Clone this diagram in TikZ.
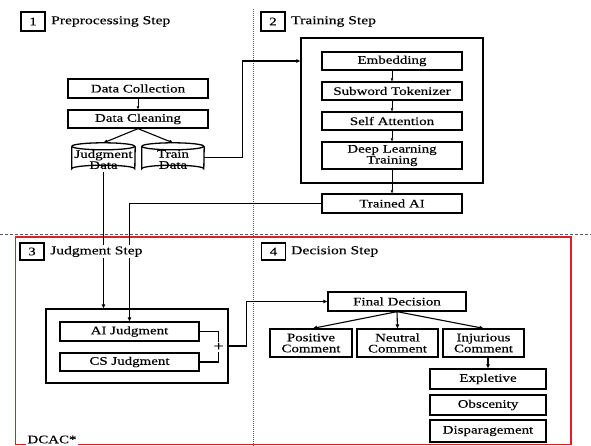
\documentclass[tikz,border=0pt]{standalone}
\usepackage{fontspec}
\setmainfont{Liberation Serif}[FakeStretch=1.3,FakeBold=0.25]
\usetikzlibrary{arrows.meta,calc}
\definecolor{redline}{RGB}{222,30,40}
\definecolor{guide}{RGB}{90,90,90}
\tikzset{
  box/.style={draw,line width=1.3pt,inner sep=0pt,align=center,font=\fontsize{11.5}{11}\selectfont},
  numbox/.style={draw,line width=1.3pt,minimum width=24pt,minimum height=19pt,inner sep=0pt,font=\fontsize{11.5}{12}\selectfont},
  steplabel/.style={anchor=west,inner sep=1pt,fill=white,font=\fontsize{12}{13}\selectfont},
  conn/.style={line width=1.1pt,-{Triangle[length=4pt,width=3.5pt]}},
  thinconn/.style={line width=0.5pt,-{Triangle[length=3pt,width=2.5pt]}},
  plain/.style={line width=1.1pt},
  cyl/.style={line width=1.3pt},
  cyltext/.style={inner sep=0pt,align=center,font=\fontsize{11.5}{11}\selectfont},
}
\begin{document}
\begin{tikzpicture}[x=1pt,y=-1pt]
\useasboundingbox (0,0) rectangle (591,446);
\fill[white] (0,0) rectangle (591,446);
% guides
\draw[guide,line width=0.8pt,dash pattern=on 0.8pt off 1.2pt] (253.5,9) -- (253.5,446);
\draw[guide,line width=0.6pt,dash pattern=on 3pt off 2pt] (0,234) -- (591,234);
\draw[redline,line width=1.3pt] (15.7,444.5) -- (15.7,237) -- (571,237) -- (571,444.5) -- cycle;
\node[fill=white,inner sep=1.5pt,font=\fontsize{11.5}{12}\selectfont] (dcac) at (52,439.5) {DCAC*};

% step labels
\node[numbox] (n1) at (33,21.5) {1};
\node[steplabel] (l1) at (50,21.5) {Preprocessing Step};
\node[numbox] (n2) at (273,21.5) {2};
\node[steplabel] (l2) at (290,21.5) {Training Step};

% preprocessing
\node[box,minimum width=140pt,minimum height=19pt] (dc) at (138,88.5) {Data Collection};
\node[box,minimum width=140pt,minimum height=18pt] (dcl) at (138,119) {Data Cleaning};
\node[inner sep=0pt,minimum width=63pt,minimum height=29pt] (jd) at (103.5,157.5) {};
\node[inner sep=0pt,minimum width=62pt,minimum height=29pt] (td) at (173,157.5) {};
\node[cyltext] (jdt) at (103.5,159.5) {Judgment\\Data};
\node[cyltext] (tdt) at (173,159.5) {Train\\Data};
\draw[cyl] ($(jd.north west)+(0,3.5)$) -- ($(jd.south west)+(0,-3.5)$) arc[start angle=180,end angle=360,x radius=31.5,y radius=3.5] -- ($(jd.north east)+(0,3.5)$);
\draw[cyl] ($(td.north west)+(0,3.5)$) -- ($(td.south west)+(0,-3.5)$) arc[start angle=180,end angle=360,x radius=31,y radius=3.5] -- ($(td.north east)+(0,3.5)$);
\draw[cyl] ($(jd.north west)+(0,3.5)$) arc[start angle=180,end angle=-180,x radius=31.5,y radius=3.5];
\draw[cyl] ($(td.north west)+(0,3.5)$) arc[start angle=180,end angle=-180,x radius=31,y radius=3.5];
\draw[thinconn,line width=0.8pt] (dc) -- (dcl);
\draw[conn] (dcl.south) -- (jd.north);
\draw[conn] (dcl.south) -- (td.north);

% training
\node[draw,line width=1.3pt,minimum width=182pt,minimum height=145pt,inner sep=0pt] (tbox) at (392,110.5) {};
\node[box,minimum width=140pt,minimum height=18pt] (emb) at (392,61) {Embedding};
\node[box,minimum width=140pt,minimum height=18pt] (sub) at (392,91) {Subword Tokenizer};
\node[box,minimum width=140pt,minimum height=18pt] (sa) at (392,121) {Self Attention};
\node[box,minimum width=140pt,minimum height=27pt] (dlt) at (392,155.5) {Deep Learning\\Training};
\node[box,minimum width=140pt,minimum height=19pt] (tai) at (392,203.5) {Trained AI};
\draw[thinconn] (emb) -- (sub);
\draw[thinconn] (sub) -- (sa);
\draw[thinconn] (sa) -- (dlt);
\draw[thinconn] (dlt) -- (tai);
\draw[conn] (td.east) -- ++(38,0) |- (tbox.west |- emb.west);

% judgment step
\node[numbox,minimum height=17pt] (n3) at (32,251.5) {3};
\node[numbox,minimum height=17pt] (n4) at (273.5,251.5) {4};
\node[steplabel] (l4) at (290,251.5) {Decision Step};

\node[draw,line width=1.3pt,minimum width=182pt,minimum height=74pt,inner sep=0pt] (jbox) at (137,346) {};
\node[box,minimum width=139pt,minimum height=19pt] (aij) at (129.5,331.5) {AI Judgment};
\node[box,minimum width=139pt,minimum height=18pt] (csj) at (129.5,362) {CS Judgment};
\draw[plain] (aij.east) -- ++(19,0) |- (csj.east) node[pos=0.25,fill=white,inner sep=1pt,font=\fontsize{14}{14}\selectfont] (plus) {+};
\draw[conn] (jd.south) -- (jd.south |- jbox.north);
\draw[conn] (tai.west) -| (aij.north);
\node[steplabel] (l3) at (49,251.5) {Judgment Step};

% decision step
\node[box,minimum width=138pt,minimum height=19pt] (fd) at (397,301.5) {Final Decision};
\node[box,minimum width=82pt,minimum height=28pt] (pc) at (311,343) {Positive\\Comment};
\node[box,minimum width=81pt,minimum height=28pt] (nc) at (397.5,343) {Neutral\\Comment};
\node[box,minimum width=81pt,minimum height=28pt] (ic) at (483.5,343) {Injurious\\Comment};
\node[box,minimum width=116pt,minimum height=20pt] (exp) at (488,379) {Expletive};
\node[box,minimum width=116pt,minimum height=20pt] (obs) at (488,405) {Obscenity};
\node[box,minimum width=116pt,minimum height=22pt] (dis) at (488,431) {Disparagement};
\draw[conn] (jbox.east) -- ++(18,0) |- (fd.west);
\draw[conn] (fd.south) -- ([xshift=2pt]pc.north);
\draw[conn] (fd.south) -- (nc.north);
\draw[conn] (fd.south) -- (ic.north);
\draw[conn] (exp.north |- ic.south) -- (exp.north);
\end{tikzpicture}
\end{document}
